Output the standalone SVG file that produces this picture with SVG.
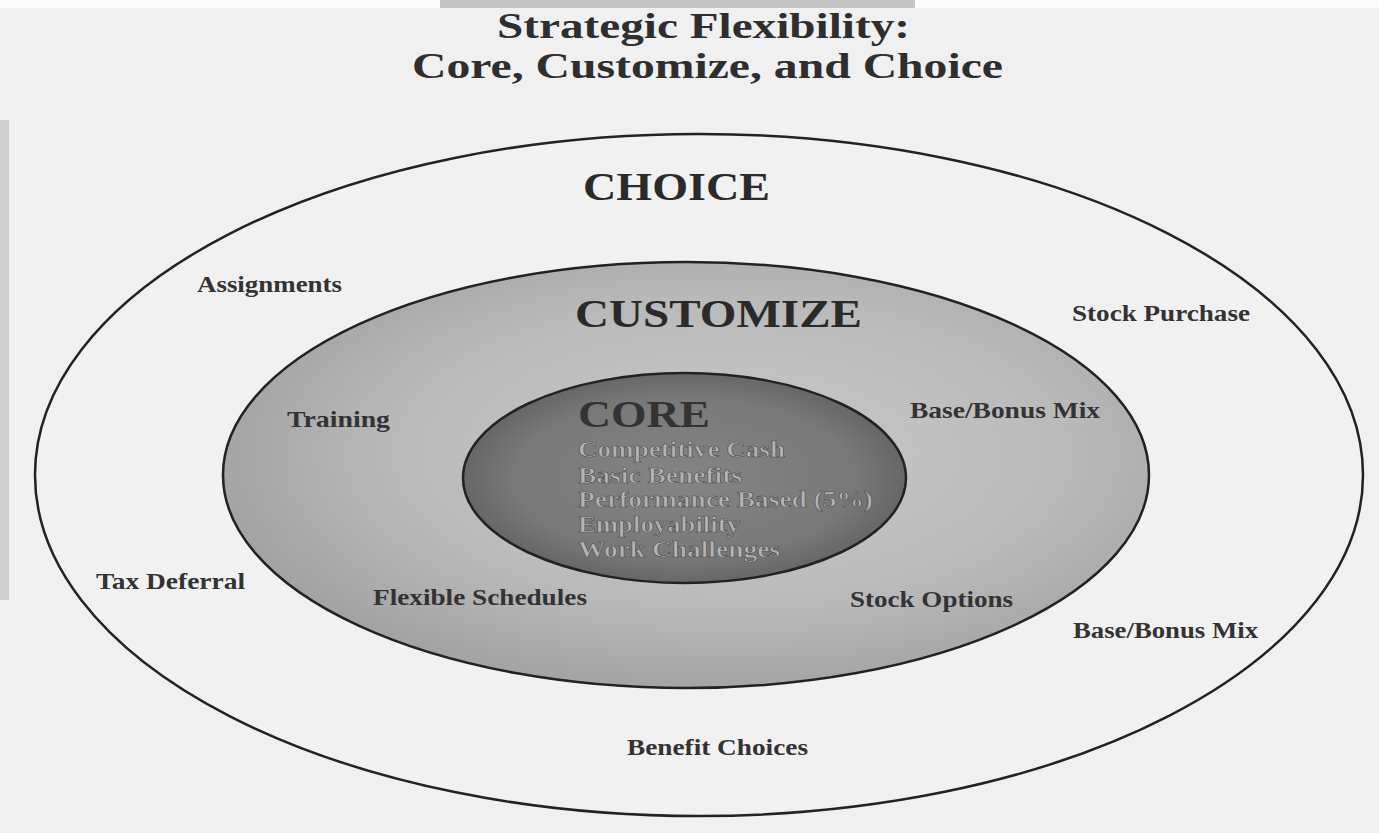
<svg xmlns="http://www.w3.org/2000/svg" width="1379" height="833" viewBox="0 0 1379 833">
<defs>
<radialGradient id="gMid" cx="0.55" cy="0.45" r="0.6">
<stop offset="0" stop-color="#c9c9c9"/>
<stop offset="0.6" stop-color="#bababa"/>
<stop offset="1" stop-color="#9f9f9f"/>
</radialGradient>
<radialGradient id="gCore" cx="0.5" cy="0.5" r="0.55">
<stop offset="0" stop-color="#858585"/>
<stop offset="0.7" stop-color="#787878"/>
<stop offset="1" stop-color="#5f5f5f"/>
</radialGradient>
<style>
.ring{stroke:#222;stroke-width:2.5}
.t{font-family:"Liberation Serif","Times New Roman",serif;font-weight:bold;fill:#333}
.title{font-size:35px;fill:#2e2e2e}
.big{font-size:41px;fill:#2a2a2a}
.lbl{font-size:24px}
.core{font-size:24px;fill:#b4b4b4;stroke:#4a4a4a;stroke-width:0.6}
</style>
</defs>
<rect width="1379" height="833" fill="#eff0ef"/>
<rect x="0" y="0" width="1379" height="8" fill="#fbfbfb"/>
<rect x="440" y="0" width="475" height="8" fill="#c4c4c4"/>
<rect x="0" y="120" width="9" height="480" fill="#cfcfcf"/>
<g id="title">
<text class="t title" x="497" y="38" textLength="413" lengthAdjust="spacingAndGlyphs">Strategic Flexibility:</text>
<text class="t title" x="412" y="78" textLength="591" lengthAdjust="spacingAndGlyphs">Core, Customize, and Choice</text>
</g>
<g id="choice">
<ellipse class="ring" cx="699" cy="475" rx="664" ry="341" fill="#f0f1f0"/>
<text class="t big" x="583" y="200" textLength="187" lengthAdjust="spacingAndGlyphs">CHOICE</text>
<text class="t lbl" x="197" y="292" textLength="145" lengthAdjust="spacingAndGlyphs">Assignments</text>
<text class="t lbl" x="1072" y="321" textLength="178" lengthAdjust="spacingAndGlyphs">Stock Purchase</text>
<text class="t lbl" x="96" y="589" textLength="149" lengthAdjust="spacingAndGlyphs">Tax Deferral</text>
<text class="t lbl" x="1073" y="638" textLength="185" lengthAdjust="spacingAndGlyphs">Base/Bonus Mix</text>
<text class="t lbl" x="627" y="755" textLength="181" lengthAdjust="spacingAndGlyphs">Benefit Choices</text>
</g>
<g id="customize">
<ellipse class="ring" cx="686" cy="475" rx="463" ry="213" fill="url(#gMid)"/>
<text class="t big" x="575" y="327" textLength="287" lengthAdjust="spacingAndGlyphs">CUSTOMIZE</text>
<text class="t lbl" x="287" y="427" textLength="103" lengthAdjust="spacingAndGlyphs">Training</text>
<text class="t lbl" x="910" y="418" textLength="190" lengthAdjust="spacingAndGlyphs">Base/Bonus Mix</text>
<text class="t lbl" x="373" y="605" textLength="214" lengthAdjust="spacingAndGlyphs">Flexible Schedules</text>
<text class="t lbl" x="850" y="607" textLength="163" lengthAdjust="spacingAndGlyphs">Stock Options</text>
</g>
<g id="core">
<ellipse class="ring" cx="684.5" cy="478" rx="221.5" ry="105" fill="url(#gCore)"/>
<text class="t" x="578" y="427" font-size="38" fill="#3a3a3a" textLength="132" lengthAdjust="spacingAndGlyphs">CORE</text>
<text class="t core" x="578" y="457" textLength="207" lengthAdjust="spacingAndGlyphs">Competitive Cash</text>
<text class="t core" x="578" y="483" textLength="164" lengthAdjust="spacingAndGlyphs">Basic Benefits</text>
<text class="t core" x="578" y="507" textLength="295" lengthAdjust="spacingAndGlyphs">Performance Based (5%)</text>
<text class="t core" x="578" y="532" textLength="162" lengthAdjust="spacingAndGlyphs">Employability</text>
<text class="t core" x="578" y="557" textLength="202" lengthAdjust="spacingAndGlyphs">Work Challenges</text>
</g>
<g id="connectors"/>
</svg>
